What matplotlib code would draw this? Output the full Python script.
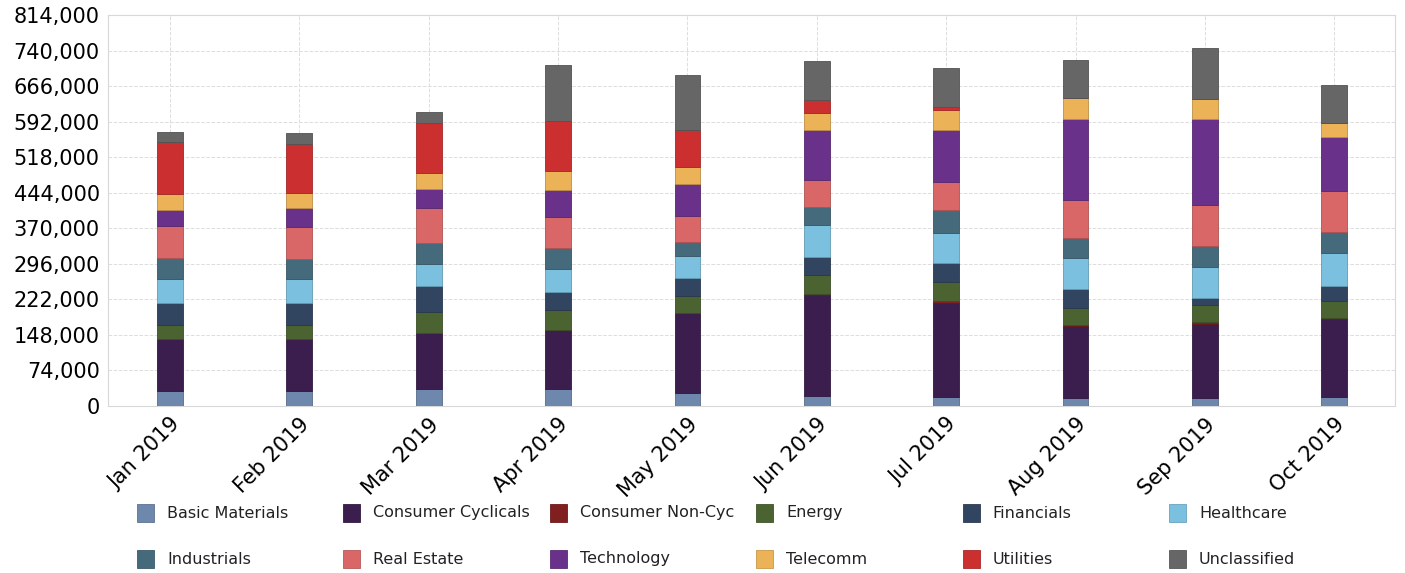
import numpy as np
import matplotlib
matplotlib.use('Agg')
from matplotlib import pyplot as plt
from matplotlib.patches import Rectangle

# Months and sector holdings.
months = ['Jan 2019', 'Feb 2019', 'Mar 2019', 'Apr 2019', 'May 2019',
          'Jun 2019', 'Jul 2019', 'Aug 2019', 'Sep 2019', 'Oct 2019']

sectors = ['Basic Materials', 'Consumer Cyclicals', 'Consumer Non-Cyc', 'Energy',
           'Financials', 'Healthcare', 'Industrials', 'Real Estate',
           'Technology', 'Telecomm', 'Utilities', 'Unclassified']

basic_materials = [32000, 32000, 35400, 35400, 27800, 20200, 18800, 16700, 17400, 18800]
consumer_cyclicals = [107000, 107000, 116100, 123700, 165400, 209900, 196000, 149400, 154300, 161900]
consumer_noncyc = [0, 0, 0, 0, 0, 2800, 2800, 3500, 2800, 2800]
energy = [29200, 29200, 45200, 40300, 35400, 39600, 39600, 34800, 36800, 34600]
financials = [46500, 46500, 52100, 38200, 37500, 37500, 39600, 38900, 13900, 31300]
healthcare = [50700, 48700, 47300, 48600, 46600, 67400, 63200, 63900, 63900, 68100]
industrials = [43100, 43000, 42400, 41700, 28500, 37500, 47300, 41700, 43100, 45200]
real_estate = [66000, 65300, 73000, 66000, 54200, 54900, 59100, 80600, 86900, 84100]
technology = [32700, 39600, 41000, 56300, 66700, 104900, 108900, 168900, 179300, 113300]
telecomm = [34750, 31300, 33400, 39600, 36200, 35400, 40900, 42400, 41000, 28500]
utilities = [107700, 102900, 104300, 104200, 76500, 26400, 6300, 0, 0, 0]
unclassified = [21500, 22200, 22200, 116800, 114700, 81300, 82000, 79200, 105600, 79900]

series = [basic_materials, consumer_cyclicals, consumer_noncyc, energy, financials,
          healthcare, industrials, real_estate, technology, telecomm, utilities,
          unclassified]

colors = ['#6d87ad', '#3b1e4d', '#801f1f', '#4a6330', '#324560', '#7cc0e0',
          '#456a7c', '#d96767', '#6a318a', '#ebb257', '#cb2f2f', '#666666']

yticks = np.arange(0, 814001, 74000)

fig = plt.figure(dpi=100, figsize=(14.05, 5.73))
ax = fig.add_axes([108/1405, 1 - 406/573, (1395-108)/1405, (406-15)/573])

x = np.arange(len(months))
bottom = np.zeros(len(months))
for name, vals, col in zip(sectors, series, colors):
    vals = np.array(vals, dtype=float)
    edge = tuple(c * 0.8 for c in matplotlib.colors.to_rgb(col))
    ax.bar(x, vals, width=0.2, bottom=bottom, color=col, edgecolor=edge,
           linewidth=0.6, zorder=3)
    bottom += vals

ax.set_xlim(-0.48, 9.47)
ax.set_ylim(0, 814000)
ax.set_yticks(yticks)
ax.set_yticklabels(['{:,}'.format(v) for v in yticks], fontsize=15)
ax.set_xticks(x)
ax.set_xticklabels(months, rotation=45, ha='right', rotation_mode='anchor', fontsize=15)
ax.tick_params(axis='both', length=0, pad=6)
ax.grid(True, color='#dddddd', linestyle='--', linewidth=0.7, zorder=0)
for s in ax.spines.values():
    s.set_color('#d8d8d8')

# Legend laid out on an even grid, like the original.
W, H = 1405, 573
for i, (name, col) in enumerate(zip(sectors, colors)):
    r, c = divmod(i, 6)
    x0 = 137 + c * 206.4
    yc = 513 + r * 46
    edge = tuple(v * 0.85 for v in matplotlib.colors.to_rgb(col))
    fig.add_artist(Rectangle((x0 / W, 1 - (yc + 9) / H), 17 / W, 18 / H,
                             facecolor=col, edgecolor=edge, linewidth=0.6,
                             transform=fig.transFigure))
    fig.text((x0 + 30) / W, 1 - yc / H, name, fontsize=11.5, va='center',
             ha='left', color='#222222')

plt.savefig('out.png', dpi=100)
